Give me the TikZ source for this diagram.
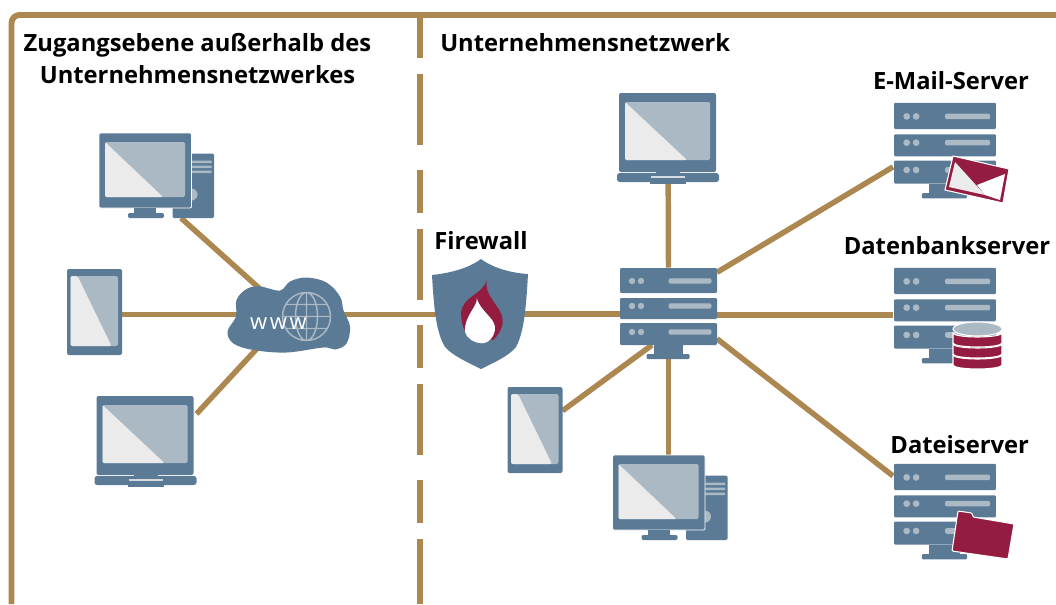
\documentclass[tikz,border=0pt]{standalone}
\usepackage{fontspec}
\setmainfont{Open Sans}
\usetikzlibrary{positioning}
\definecolor{netblue}{HTML}{5A7A96}
\definecolor{nettan}{HTML}{AC874F}
\definecolor{netred}{HTML}{941C40}
\definecolor{netlight}{HTML}{AAB9C3}
\definecolor{netpale}{HTML}{EBEBEB}
\tikzset{
  iconbox/.style 2 args = {inner sep=0pt, outer sep=0pt, minimum width=#1*.75pt, minimum height=#2*.75pt},
  serverbox/.style = {iconbox={104}{96}},
  desktopbox/.style = {iconbox={115}{85}},
  laptopbox/.style = {iconbox={102}{90}},
  tabletbox/.style = {iconbox={55}{86}},
  link/.style = {draw=nettan, line width=4.1pt},
  frameline/.style = {draw=nettan, line width=4.4pt},
  heading/.style = {font=\fontsize{17.8}{24}\selectfont\bfseries, align=center, inner sep=0pt},
  badge/.style = {fill=netred, draw=white, line width=.8pt},
  serverpic/.pic = {
    \foreach \racktop/\rackend/\rackmid in {-45/-20/-32, -15/6/-7, 10/32/19} {
      \fill[netblue, rounded corners=.8pt] (-48.5,\racktop) rectangle (48.5,\rackend);
      \fill[netlight] (-36.5,\rackmid) circle (3.2) (-27.5,\rackmid) circle (3.2);
      \fill[netlight, rounded corners=1.5pt] (0,\rackmid-2.7) rectangle (43,\rackmid+2.7);
    }
    \fill[netblue] (-15,32) rectangle (14,41);
    \fill[netblue, rounded corners=.8pt] (-22,41) rectangle (21,46);
  },
  desktoppic/.pic = {
    \fill[netblue, rounded corners=1pt] (16,-22) rectangle (57.5,42.5);
    \fill[netlight] (35,-15) rectangle (55,-12.5) (35,-10) rectangle (55,-7.5) (35,-5) rectangle (55,-2.5);
    \fill[netlight] (35,19) circle (6);
    \filldraw[fill=netblue, draw=white, line width=.7pt, rounded corners=1pt] (-57.5,-42.5) rectangle (35,32.5);
    \fill[netblue] (-22.5,32.5) rectangle (-.5,38);
    \fill[netblue, rounded corners=1pt] (-28.5,37.5) rectangle (7.5,42.5);
    \fill[netlight, rounded corners=1pt] (-51.5,-33.5) rectangle (28.5,21.5);
    \fill[netpale, rounded corners=1pt] (-51.5,-33.5) -- (6.5,21.5) -- (-51.5,21.5) -- cycle;
  },
  laptoppic/.pic = {
    \fill[netblue, rounded corners=1.5pt] (-49,-45) rectangle (48,34);
    \fill[netlight, rounded corners=1pt] (-43,-36) rectangle (42,22);
    \fill[netpale, rounded corners=1pt] (-43,-36) -- (19,22) -- (-43,22) -- cycle;
    \fill[netblue, rounded corners=2pt] (-51,35) -- (51,35) -- (51,44) -- (-51,44) -- cycle;
    \fill[netblue] (-12,33) rectangle (12,37);
    \fill[netblue] (-18,42) rectangle (18,45.5);
    \fill[netlight!50!white] (-17,38.2) rectangle (17,39.8);
  },
  tabletpic/.pic = {
    \fill[netblue, rounded corners=1.5pt] (-27.5,-43) rectangle (27.5,43);
    \fill[netlight, rounded corners=1.5pt] (-24,-36) rectangle (23.5,34);
    \fill[netpale, rounded corners=1.5pt] (-24,-36) -- (-17,-36) -- (17,34) -- (-24,34) -- cycle;
  }
}
\begin{document}
\begin{tikzpicture}[x=.75pt, y=-.75pt]
  \useasboundingbox (0,0) rectangle (1056,604);

  % where the icons sit
  \node[iconbox={123}{75}] (cloud) at (288.5,314.5) {};
  \node[iconbox={96}{110}] (firewall) at (481,314) {};
  \node[iconbox={97}{91}] (hub) at (668.5,313) {};
  \node[desktopbox] (desk left) at (156.5,175.5) {};
  \node[tabletbox] (tablet left) at (94.5,312) {};
  \node[laptopbox] (laptop left) at (145.5,441) {};
  \node[laptopbox] (laptop top) at (668,138) {};
  \node[tabletbox] (tablet right) at (535,430) {};
  \node[desktopbox] (desk right) at (670,497.5) {};
  \node[serverbox] (mail) at (945,150) {};
  \node[serverbox] (database) at (945,315) {};
  \node[serverbox] (files) at (945,511) {};
  \coordinate (hub foot) at (652,345);

  % frame
  \draw[frameline, rounded corners=6pt] (11.5,604) -- (11.5,15) -- (1056,15);
  \draw[frameline, dash pattern=on 32.25pt off 12pt on 53.25pt off 18.75pt] (420,15) -- (420,604);

  % connectors
  \draw[link] (desk left.-60) -- (cloud.center);
  \draw[link] (tablet left.east |- cloud.center) -- (cloud.center);
  \draw[link] (laptop left.28) -- (cloud.center);
  \draw[link] (cloud.center) -- (firewall.center |- cloud.center);
  \draw[link] (firewall.center) -- (hub.west |- firewall.center);
  \draw[link] (laptop top.center) -- (hub.north);
  \draw[link] (hub.south) -- (desk right.north -| hub.south);
  \draw[link] (tablet right.35) -- (hub foot);
  \draw[link] (hub.40) -- (mail.198);
  \draw[link] (hub.east |- database.center) -- (database.west);
  \draw[link] (hub.-28) -- (files.146);

  % icons
  \pic at (desk left) {desktoppic};
  \pic at (desk right) {desktoppic};
  \pic at (laptop left) {laptoppic};
  \pic at (laptop top) {laptoppic};
  \pic at (tablet left) {tabletpic};
  \pic at (tablet right) {tabletpic};
  \pic at (hub) {serverpic};
  \pic[scale=1.05] at (mail) {serverpic};
  \pic[scale=1.05] at (database) {serverpic};
  \pic[scale=1.05] at (files) {serverpic};

  % cloud
  \begin{scope}[shift={(cloud)}]
    \fill[netblue] plot[smooth cycle, tension=.6] coordinates {(-61,17) (-52.5,2) (-52,-14.5) (-42,-25.5) (-28.5,-28) (-8.5,-24) (1.5,-33) (18,-37) (38,-32) (51.5,-18) (55,-4) (61.5,12) (58,29) (46.5,35) (35,33) (-2,38) (-35,35.5) (-55,29)};
    \draw[netlight, line width=1.1pt] (18,2) circle (24) (18,2) ellipse (11 and 24) (18,-22) -- (18,26) (-6,2) -- (42,2)
      (-3,-10) -- (39,-10) (-3,14) -- (39,14);
    \node[text=white, inner sep=0pt, font=\fontsize{16.5}{20}\selectfont] (www) at (-10,9) {w\kern2pt w\kern2pt w};
  \end{scope}

  % firewall
  \begin{scope}[shift={(firewall)}]
    \fill[netblue] (0,-55) .. controls (-12,-46) and (-30,-41) .. (-49,-39) .. controls (-47,-5) and (-45,18) .. (-36,33) .. controls (-28,42) and (-12,49) .. (0,55)
      .. controls (12,49) and (28,42) .. (35,33) .. controls (43,18) and (45,-5) .. (47,-40) .. controls (30,-41) and (12,-46) .. (0,-55) -- cycle;
    \fill[netred] (5.7,-34) .. controls (3,-20) and (-19,-18) .. (-20,-.7) .. controls (-20,6) and (-18,13) .. (-16,17.7) -- (12.3,26) .. controls (18,20) and (22,14) .. (21.7,6) .. controls (21,-8) and (3,-16) .. (5.7,-34) -- cycle;
    \fill[white] (-4.3,-15.7) .. controls (-3,-8) and (-17,2) .. (-16,17.7) .. controls (-14,25) and (-6,29.3) .. (.7,29.3) .. controls (8,29.3) and (14,22) .. (14,14) .. controls (14,4) and (0,-2) .. (-4.3,-15.7) -- cycle;
  \end{scope}

  % badges on the servers
  \draw[badge] (953,156) -- (1009,169) -- (1003,203) -- (945,190) -- cycle;
  \fill[netpale] (955,162) -- (949,187) -- (985,195) -- cycle;
  \fill[white] (977,185) -- (1005,174) -- (1000,200) -- (985,195) -- cycle;
  \foreach \bandtop/\bandend in {355/365, 344/354, 333/343} {
    \filldraw[fill=netred, draw=white, line width=.8pt] (953,\bandtop) -- (953,\bandend) arc[start angle=180, end angle=0, x radius=24.5, y radius=4] -- (1002,\bandtop) arc[start angle=0, end angle=180, x radius=24.5, y radius=4] -- cycle;
  }
  \filldraw[fill=netlight, draw=white, line width=.8pt] (977.5,329) ellipse (24.5 and 7);
  \draw[badge, rounded corners=.8pt] (958,511) -- (972,513) -- (973,517) -- (1014,524) -- (1008,559) -- (952,551) -- cycle;

  % texts
  \node[heading] (outside) at (197.5,59) {Zugangsebene außerhalb des\\Unternehmensnetzwerkes};
  \node[heading, anchor=west] (inside) at (440,43) {Unternehmensnetzwerk};
  \node[heading, above=7pt of firewall] (firewall label) {Firewall};
  \node[heading, above=9pt of mail, xshift=4.5pt] (mail label) {E-Mail-Server};
  \node[heading, above=9pt of database, xshift=1.5pt] (database label) {Datenbankserver};
  \node[heading, above=7pt of files, xshift=11pt] (files label) {Dateiserver};
\end{tikzpicture}
\end{document}
